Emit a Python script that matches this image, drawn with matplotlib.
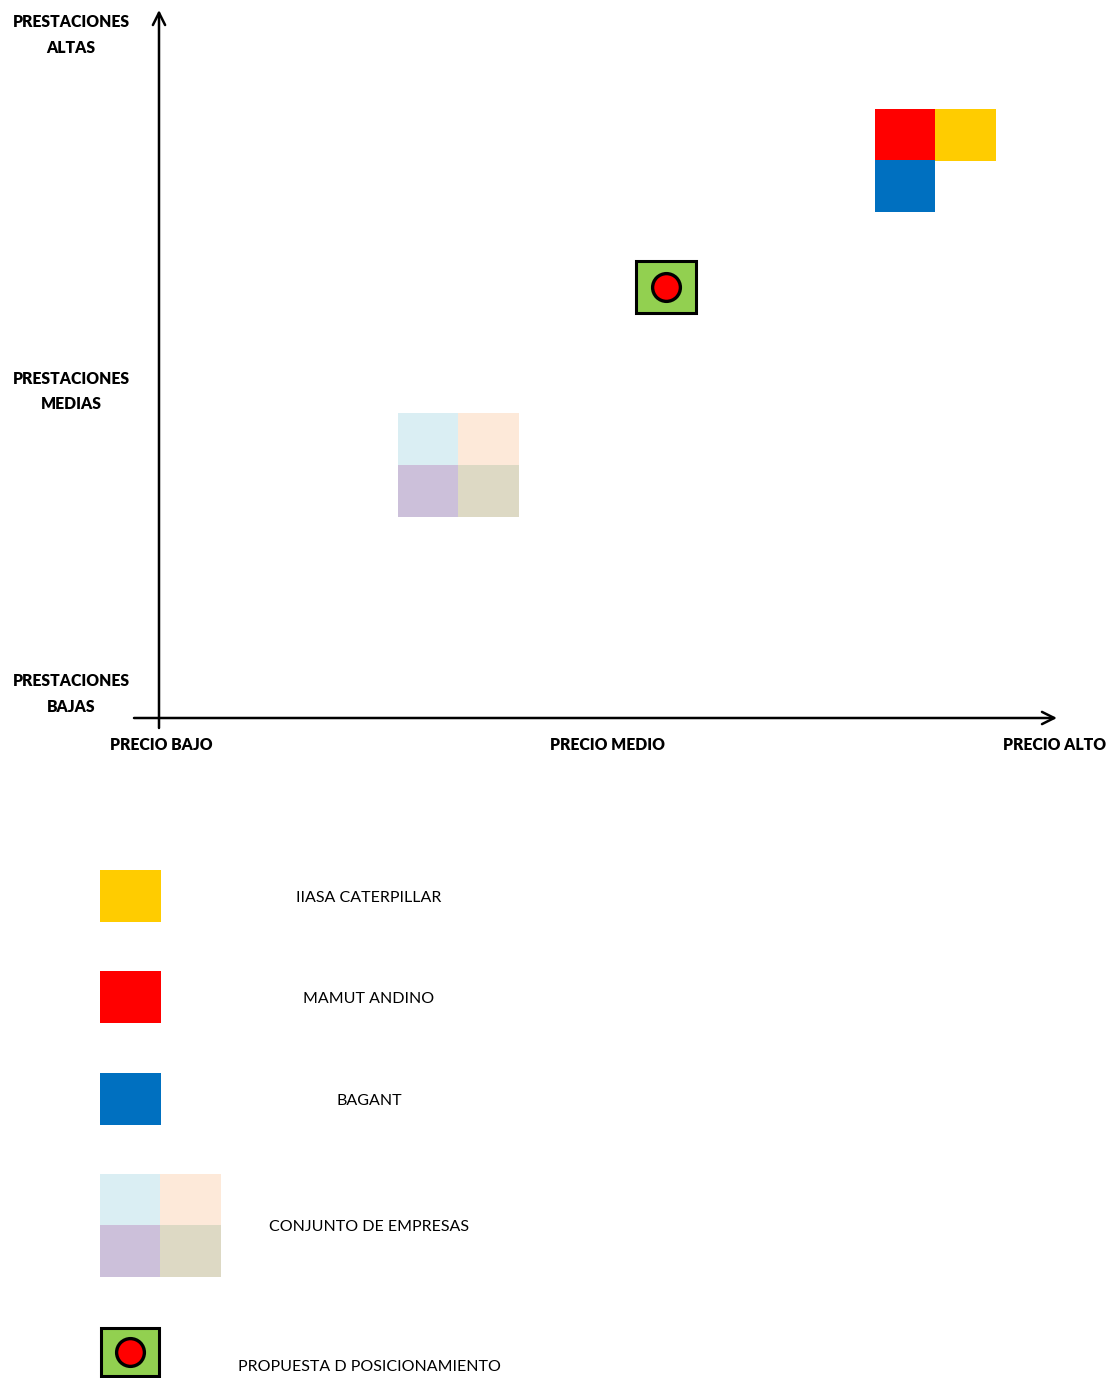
import numpy as np
import matplotlib.pyplot as plt

# posicionamiento: precio (0 bajo, 1 medio, 2 alto) vs prestaciones (0 bajas .. 2 altas)
empresas = ['IIASA CATERPILLAR', 'MAMUT ANDINO', 'BAGANT']
precio_emp = [1.800, 1.665, 1.665]
prest_emp = [1.706, 1.706, 1.556]
colores_emp = ['#FFCC00', '#FF0000', '#0070C0']

conjunto_precio = [0.600, 0.735, 0.600, 0.735]
conjunto_prest = [0.817, 0.817, 0.665, 0.665]
conjunto_colores = ['#DAEEF3', '#FDE9D9', '#CCC0DA', '#DDD9C4']

propuesta_precio = 1.132
propuesta_prest = 1.260

x_labels = ['PRECIO BAJO', 'PRECIO MEDIO', 'PRECIO ALTO']
x_ticks = [0.005, 1, 2]
y_labels = ['PRESTACIONES\nBAJAS', 'PRESTACIONES\nMEDIAS', 'PRESTACIONES\nALTAS']
y_ticks = [0.07, 0.955, 1.998]

ley_textos = ['IIASA CATERPILLAR', 'MAMUT ANDINO', 'BAGANT',
              'CONJUNTO DE EMPRESAS', 'PROPUESTA D POSICIONAMIENTO']

plt.rcParams['font.family'] = ['Lato', 'DejaVu Sans']

W, H = 1114, 1378
fig = plt.figure(figsize=(W / 100, H / 100), dpi=100)

# ---- mapa de posicionamiento ----
ux, uy = 448.0, 342.0   # px por unidad
ox, oy = 159.0, 718.0   # origen en px
ax = fig.add_axes([0, 0, 1, 1])
ax.set_xlim(-ox / ux, (W - ox) / ux)
ax.set_ylim(-(H - oy) / uy, oy / uy)
ax.axis('off')

cw, ch = 60.5 / ux, 52 / uy

ax.bar(precio_emp, ch, width=cw, bottom=np.array(prest_emp) - ch / 2,
       color=colores_emp, linewidth=0)
ax.bar(conjunto_precio, ch, width=cw, bottom=np.array(conjunto_prest) - ch / 2,
       color=conjunto_colores, linewidth=0)
ax.bar([propuesta_precio], [ch], width=cw, bottom=propuesta_prest - ch / 2,
       color='#92D050', edgecolor='black', linewidth=2.2)
ax.plot([propuesta_precio], [propuesta_prest], 'o', ms=20, mfc='#FF0000',
        mec='black', mew=2.4)

arrow = dict(arrowstyle='->', lw=1.8, color='black', mutation_scale=22,
             shrinkA=0, shrinkB=0)
ax.annotate('', xy=(0, 708 / uy), xytext=(0, -10 / uy), arrowprops=arrow)
ax.annotate('', xy=((1057 - ox) / ux, 0), xytext=(-25 / ux, 0), arrowprops=arrow)

for xt, lab in zip(x_ticks, x_labels):
    ax.text(xt, -27 / uy, lab, ha='center', va='center', fontsize=11.3,
            fontweight='heavy')
for yt, lab in zip(y_ticks, y_labels):
    ax.text(-88 / ux, yt, lab, ha='center', va='center', fontsize=11.3,
            fontweight='heavy', linespacing=1.75)

# ---- leyenda ----
lg = fig.add_axes([0, 0, 1, 1])
lg.set_xlim(0, W)
lg.set_ylim(H, 0)
lg.axis('off')
lg.patch.set_alpha(0)

filas = [896, 997, 1099]
lg.bar([130.5] * 3, 52, width=61, bottom=np.array(filas) - 26,
       color=colores_emp, linewidth=0)
cx = [130, 190.5, 130, 190.5]
cy = [1174, 1174, 1225, 1225]
lg.bar(cx, 52, width=60.5, bottom=cy, color=conjunto_colores, linewidth=0)
lg.bar([130], [48], width=58, bottom=1328, color='#92D050',
       edgecolor='black', linewidth=2.2)
lg.plot([130], [1352], 'o', ms=20, mfc='#FF0000', mec='black', mew=2.4)

for yy, t in zip([898, 999, 1101, 1227, 1367], ley_textos):
    lg.text(369, yy, t, ha='center', va='center', fontsize=11.5)

fig.savefig('out.png', dpi=100)
plt.close()
